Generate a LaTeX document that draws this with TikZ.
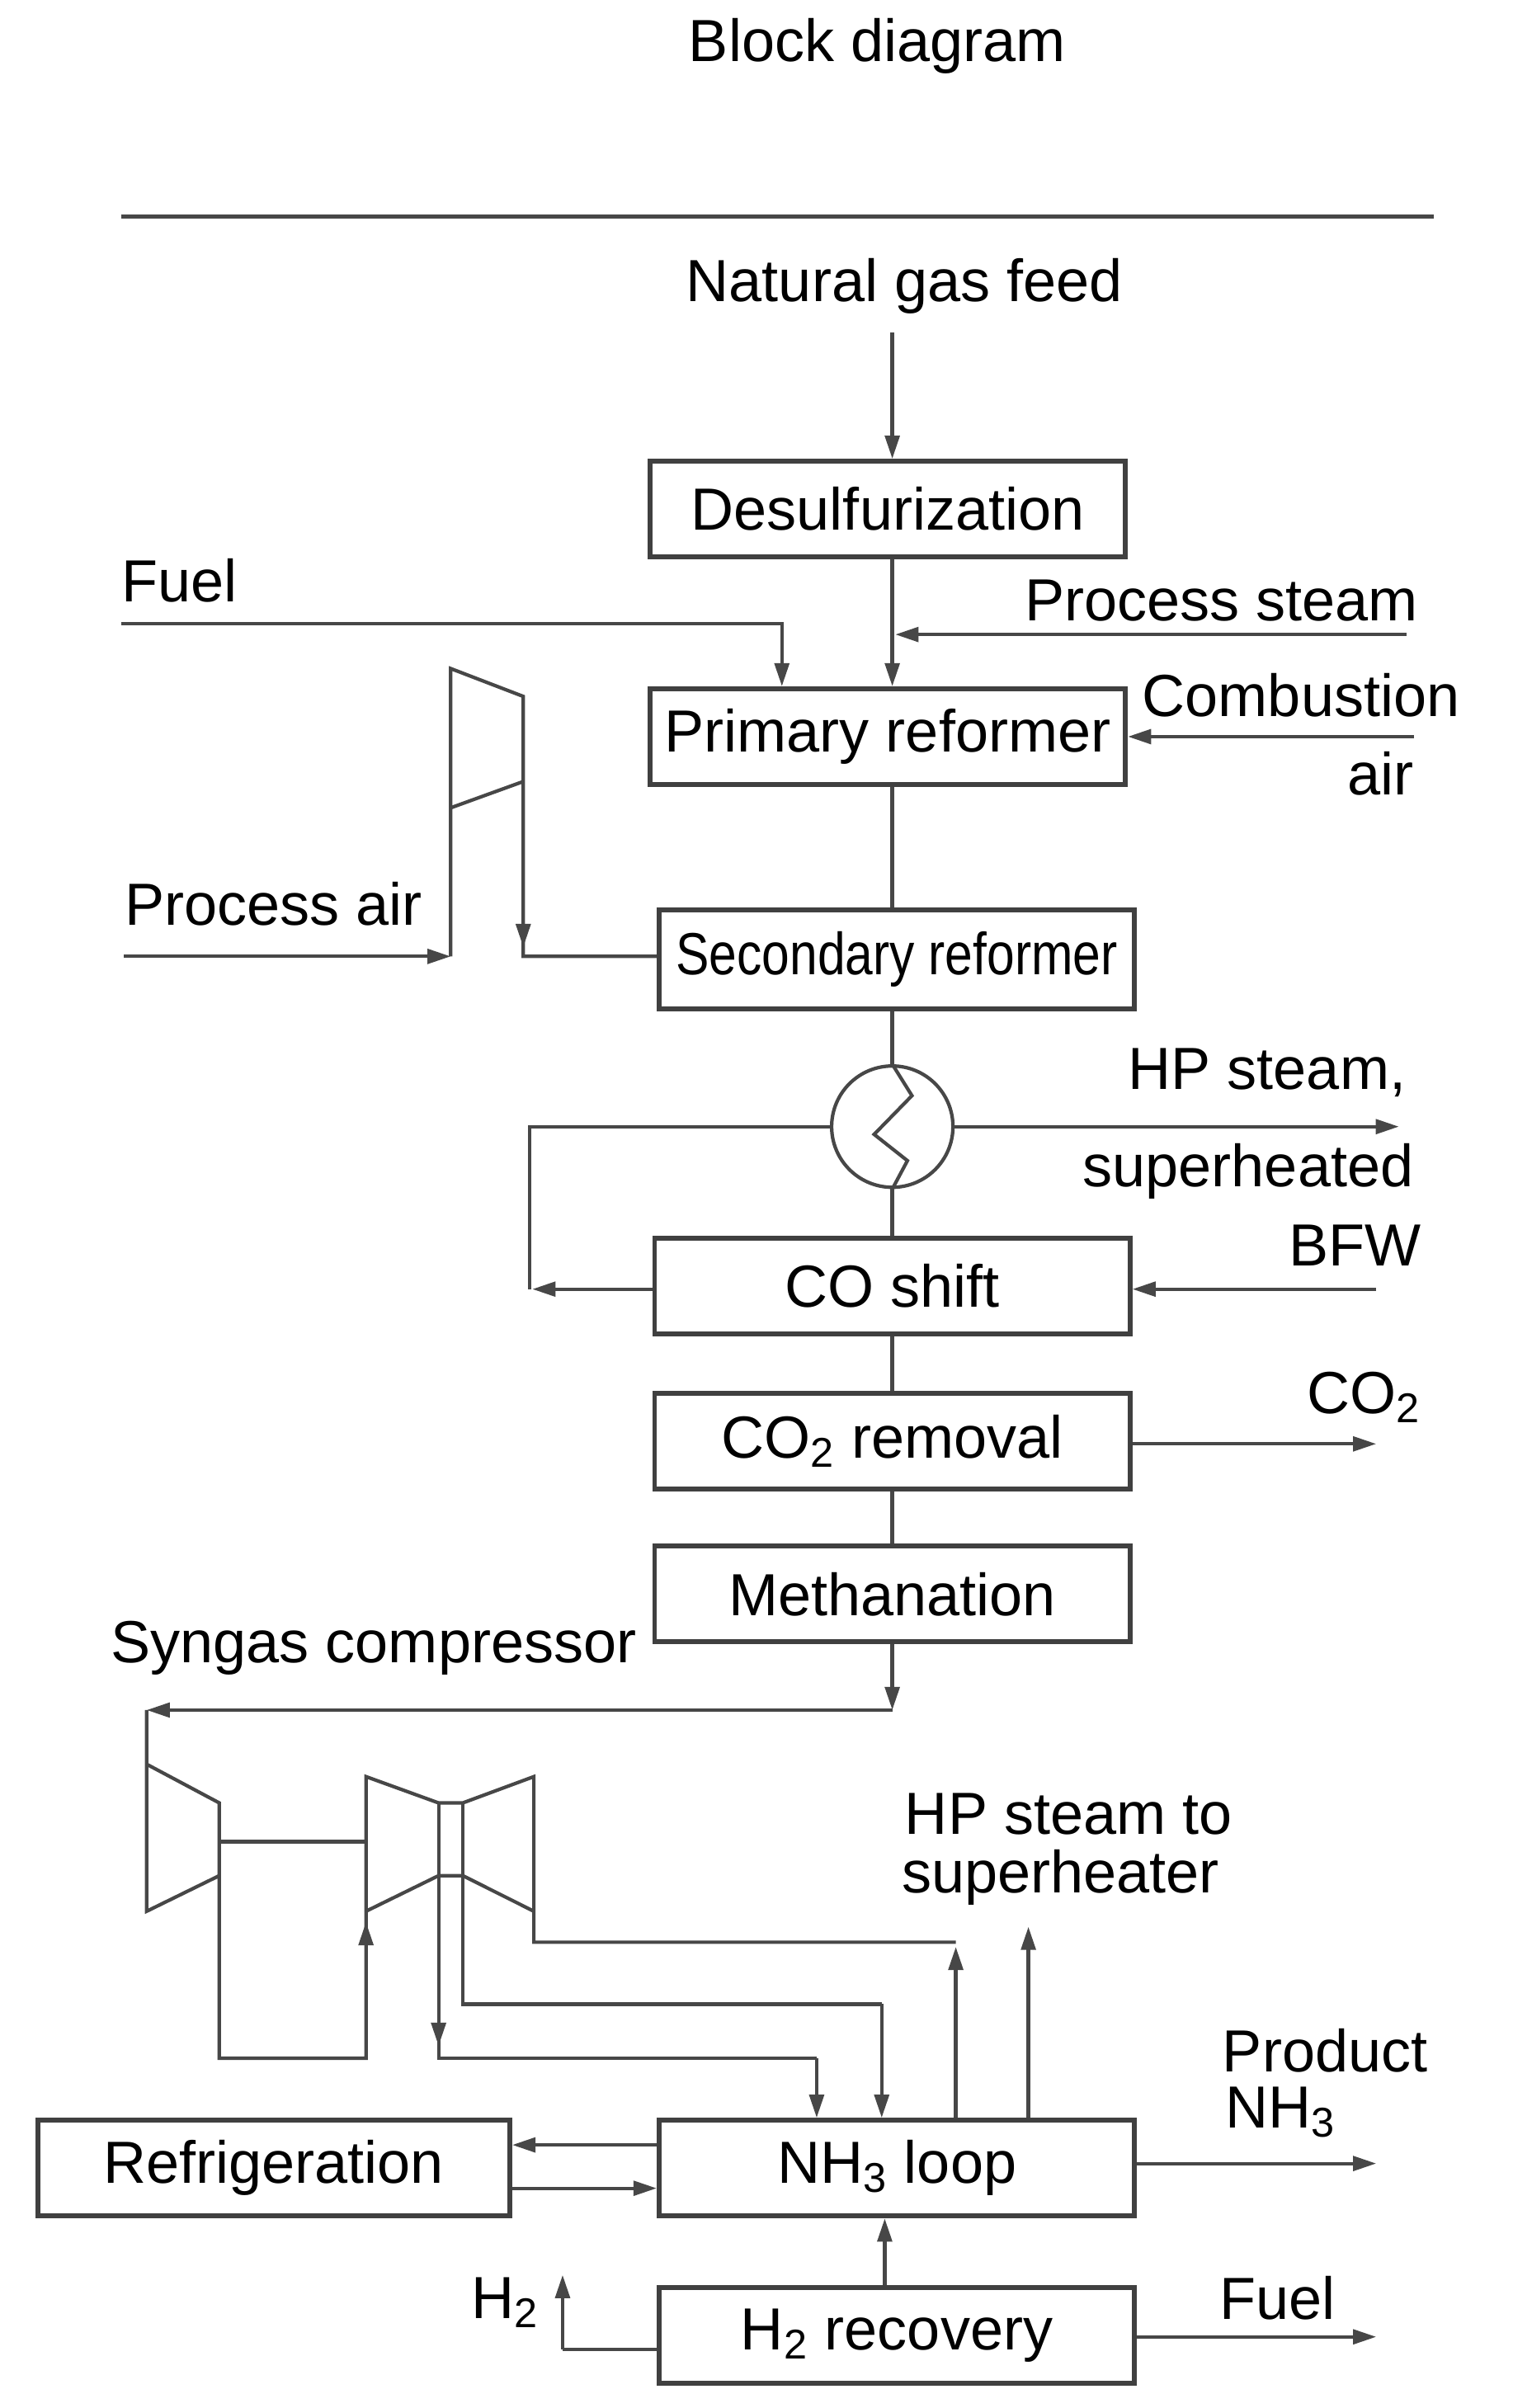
\documentclass[tikz,border=0pt]{standalone}
\usepackage{fontspec}
\setmainfont{Liberation Sans}
\usetikzlibrary{arrows.meta}
\begin{document}
\begin{tikzpicture}[x=0.01833cm,y=-0.01876cm,
  line/.style={draw=black!72,line width=1.2pt},
  arr/.style={line,-{Triangle[length=8pt,width=5pt]}},
  box/.style={draw=black!75,line width=1.7pt,minimum width=5.76cm,minimum height=1.16cm,inner sep=0pt},
  lbl/.style={inner sep=0pt}]
\useasboundingbox (0,0) rectangle (1000,1556);
\tikzset{every node/.append style={font=\fontsize{20.5}{24}\selectfont}}

% title and rule
\node[lbl] (title) at (580,30) {Block diagram};
\draw[line,line width=1.5pt] (80,140) -- (948,140);

% main column
\node[lbl] (ngf) at (598,185) {Natural gas feed};
\node[box] (des) at (587,329) {Desulfurization};
\node[box] (pri) at (587,476) {Primary reformer};
\node[box,minimum height=1.2cm] (sec) at (593,620) {\scalebox{0.84}[1]{Secondary reformer}};
\node[circle,draw=black!72,line width=1.2pt,minimum size=1.47cm,inner sep=0pt] (hx) at (590,728) {};
\node[box] (cos) at (590,831) {CO shift};
\node[box] (co2) at (590,931) {CO\textsubscript{2} removal};
\node[box] (met) at (590,1030) {Methanation};
\node[box] (nh3) at (593,1401) {NH\textsubscript{3} loop};
\node[box,minimum width=5.72cm] (ref) at (181,1401) {Refrigeration};
\node[box] (h2r) at (593,1509) {H\textsubscript{2} recovery};

% labels
\node[lbl,anchor=west] (lfuel) at (80,375) {Fuel};
\node[lbl,anchor=east] (lps) at (938,388) {Process steam};
\node[lbl,anchor=west] (lca) at (755,449) {Combustion};
\node[lbl,anchor=east] (lair) at (935,500) {air};
\node[lbl,anchor=west] (lpa) at (82,584) {Process air};
\node[lbl,anchor=east] (lhp) at (930,693) {HP steam,};
\node[lbl,anchor=east] (lsh) at (935,757) {superheated};
\node[lbl,anchor=east] (lbfw) at (940,805) {BFW};
\node[lbl,anchor=east] (lco2) at (940,903) {CO\textsubscript{2}};
\node[lbl,anchor=west] (lsg) at (73,1065) {Syngas compressor};
\node[lbl,anchor=west] (lhps) at (598,1172) {HP steam to};
\node[lbl,anchor=west] (lsup) at (596,1213) {superheater};
\node[lbl,anchor=west] (lpr) at (808,1325) {Product};
\node[lbl,anchor=west] (lnh3) at (810,1365) {NH\textsubscript{3}};
\node[lbl,anchor=east] (lh2) at (357,1488) {H\textsubscript{2}};
\node[lbl,anchor=west] (lfuel2) at (806,1485) {Fuel};

% main flow
\draw[arr] (590,215) -- (des.north -| 590,0);
\draw[arr] (des.south -| 590,0) -- (pri.north -| 590,0);
\draw[arr] (80,403) -- (517,403) -- (pri.north -| 517,0);
\draw[arr] (930,410) -- (592,410);
\draw[arr] (935,476) -- (pri.east);
\draw[line] (pri.south -| 590,0) -- (sec.north -| 590,0);
\draw[line] (sec.south -| 590,0) -- (hx.north);
\draw[line] (hx.south) -- (cos.north -| 590,0);
\draw[line] (hx.north) -- (603,708) -- (578,733) -- (600,750) -- (hx.south);
\draw[arr] (hx.east) -- (925,728);
\draw[line] (hx.west) -- (350,728) -- (350,833);
\draw[arr] (cos.west |- 0,833) -- (352,833);
\draw[arr] (910,833) -- (cos.east |- 0,833);
\draw[line] (cos.south) -- (co2.north);
\draw[arr] (co2.east |- 0,933) -- (910,933);
\draw[line] (co2.south) -- (met.north);

% process air compressor
\coordinate (pa) at (298,618);
\draw[arr] (82,618) -- (pa);
\draw[line] (pa) -- (298,432) -- (346,450) -- (346,618) -- (sec.west |- 0,618);
\draw[arr] (346,560) -- (346,612);
\draw[line] (298,522) -- (346,505);

% syngas compressor
\draw[arr] (met.south -| 590,0) -- (590,1105);
\draw[arr] (590,1105) -- (97,1105);
\draw[line] (97,1105) -- (97,1235) -- (145,1212) -- (145,1330) -- (242,1330) -- (242,1235);
\draw[line] (97,1140) -- (145,1165) -- (145,1212);
\draw[line] (145,1190) -- (242,1190);
\draw[arr] (242,1330) -- (242,1242);
\draw[line] (242,1235) -- (242,1148) -- (290,1165) -- (306,1165) -- (353,1148) -- (353,1255) -- (632,1255);
\draw[line] (242,1235) -- (290,1212) -- (306,1212) -- (353,1235);
\draw[line] (290,1165) -- (290,1330) -- (540,1330);
\draw[arr] (290,1250) -- (290,1322);
\draw[arr] (540,1330) -- (nh3.north -| 540,0);
\draw[line] (306,1165) -- (306,1295) -- (583,1295);
\draw[arr] (583,1295) -- (nh3.north -| 583,0);
\draw[arr] (nh3.north -| 632,0) -- (632,1258);
\draw[arr] (nh3.north -| 680,0) -- (680,1245);

% bottom section
\draw[arr] (nh3.west |- 0,1386) -- (ref.east |- 0,1386);
\draw[arr] (ref.east |- 0,1414) -- (nh3.west |- 0,1414);
\draw[arr] (nh3.east |- 0,1398) -- (910,1398);
\draw[arr] (h2r.north -| 585,0) -- (nh3.south -| 585,0);
\draw[line] (h2r.west |- 0,1518) -- (372,1518);
\draw[arr] (372,1518) -- (372,1470);
\draw[arr] (h2r.east |- 0,1510) -- (910,1510);
\end{tikzpicture}
\end{document}
